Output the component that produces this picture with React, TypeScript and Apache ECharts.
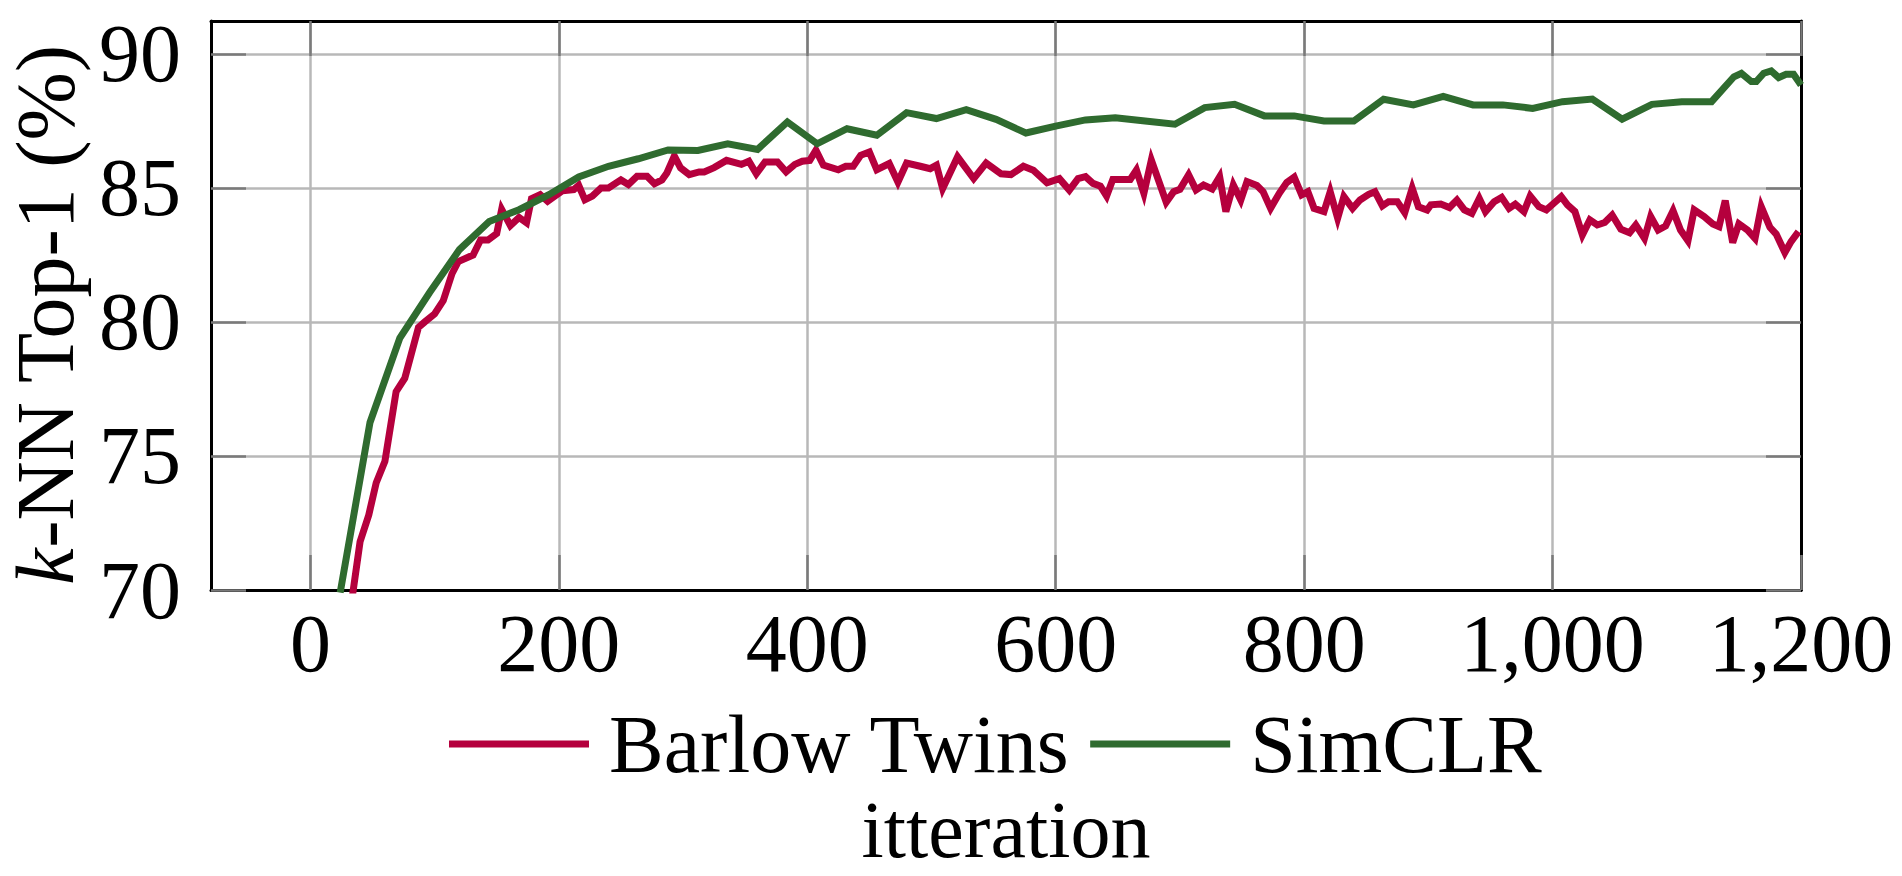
import React, { useEffect, useRef } from "react";
import * as echarts from "echarts";

const FONT = "'Liberation Serif', 'DejaVu Serif', serif";

const xTicks = [0, 200, 400, 600, 800, 1000, 1200];
const yTicks = [70, 75, 80, 85, 90];

const seriesNames = ["Barlow Twins", "SimCLR"];
const seriesColors = ["#B5003D", "#2F6B2F"];

// Barlow Twins (k-NN Top-1 %)
const btX = [
  33, 40, 47, 53, 60, 69, 76, 87, 92, 100, 107, 114, 119, 131, 137, 143, 150, 154, 161, 168,
  174, 178, 185, 191, 197, 203, 212, 216, 221, 227, 234, 240, 250, 256, 263, 271, 277, 283, 287, 293,
  298, 305, 313, 317, 325, 335, 347, 353, 359, 366, 376, 383, 390, 396, 402, 407, 413, 425, 431, 437,
  443, 450, 456, 466, 473, 480, 491, 499, 504, 509, 521, 534, 544, 556, 564, 574, 582, 593, 603, 611,
  618, 624, 630, 636, 641, 646, 660, 665, 671, 677, 689, 695, 700, 707, 713, 719, 726, 732, 737, 743,
  749, 754, 762, 767, 773, 780, 786, 792, 798, 803, 808, 816, 821, 827, 832, 839, 845, 852, 857, 863,
  868, 875, 881, 887, 892, 899, 902, 910, 917, 923, 929, 935, 941, 946, 953, 959, 965, 970, 977, 982,
  989, 995, 1001, 1007, 1012, 1018, 1024, 1030, 1036, 1042, 1048, 1055, 1062, 1067, 1074, 1079, 1085, 1091, 1097, 1103,
  1109, 1114, 1122, 1129, 1134, 1139, 1145, 1150, 1157, 1163, 1168, 1175, 1180, 1187, 1192, 1198,
];
const btY = [
  69.5, 71.8, 72.8, 74.0, 74.8, 77.4, 77.9, 79.8, 80.0, 80.3, 80.8, 81.8, 82.25, 82.5, 83.06, 83.06, 83.3, 84.2, 83.6, 83.9,
  83.7, 84.6, 84.75, 84.5, 84.7, 84.9, 84.94, 85.1, 84.56, 84.7, 85.0, 85.0, 85.3, 85.13, 85.44, 85.44, 85.16, 85.3, 85.56, 86.19,
  85.75, 85.5, 85.6, 85.6, 85.76, 86.03, 85.88, 86.0, 85.53, 85.97, 85.97, 85.6, 85.88, 86.0, 86.03, 86.41, 85.85, 85.68, 85.81, 85.81,
  86.22, 86.34, 85.68, 85.91, 85.22, 85.93, 85.81, 85.72, 85.85, 84.98, 86.16, 85.35, 85.93, 85.53, 85.5, 85.81, 85.66, 85.19, 85.35, 84.92,
  85.35, 85.42, 85.17, 85.07, 84.7, 85.32, 85.32, 85.67, 84.8, 86.04, 84.47, 84.86, 84.95, 85.49, 84.93, 85.11, 84.96, 85.42, 84.12, 85.11,
  84.55, 85.24, 85.09, 84.86, 84.24, 84.8, 85.2, 85.4, 84.74, 84.86, 84.24, 84.12, 84.86, 83.87, 84.68, 84.24, 84.55, 84.76, 84.86, 84.33,
  84.49, 84.49, 84.08, 84.99, 84.3, 84.18, 84.37, 84.4, 84.27, 84.55, 84.18, 84.05, 84.61, 84.12, 84.49, 84.65, 84.24, 84.4, 84.12, 84.7,
  84.3, 84.18, 84.43, 84.68, 84.37, 84.12, 83.25, 83.81, 83.62, 83.71, 83.99, 83.46, 83.33, 83.62, 83.12, 83.93, 83.43, 83.58, 84.15, 83.43,
  83.03, 84.18, 83.93, 83.66, 83.56, 84.53, 82.96, 83.66, 83.43, 83.12, 84.3, 83.53, 83.28, 82.59, 83.0, 83.37,
];

// SimCLR (k-NN Top-1 %)
const simX = [
  24, 48, 72, 96, 120, 144, 168, 192, 216, 240, 264, 288, 312, 336, 360, 384, 408, 432, 456, 480,
  504, 528, 552, 576, 600, 624, 648, 672, 696, 720, 744, 768, 792, 816, 840, 864, 888, 912, 936, 960,
  984, 1008, 1032, 1056, 1080, 1104, 1128, 1146, 1152, 1160, 1164, 1170, 1176, 1182, 1188, 1194, 1200,
];
const simY = [
  69.9, 76.25, 79.4, 81.1, 82.7, 83.75, 84.19, 84.75, 85.41, 85.81, 86.09, 86.42, 86.4, 86.65, 86.44, 87.46, 86.65, 87.21, 86.97, 87.81,
  87.59, 87.92, 87.56, 87.05, 87.31, 87.54, 87.62, 87.5, 87.38, 88.0, 88.12, 87.69, 87.69, 87.5, 87.5, 88.31, 88.1, 88.42, 88.1, 88.1,
  87.97, 88.22, 88.32, 87.57, 88.12, 88.22, 88.22, 89.15, 89.28, 88.97, 88.97, 89.28, 89.37, 89.12, 89.24, 89.24, 88.84,
];

const X_MIN = -80;
const X_MAX = 1200;
const Y_MIN = 70;
const Y_MAX = 91.23;

const fmtThousands = (v: number) =>
  String(v).replace(/\B(?=(\d{3})+(?!\d))/g, ",");

export default function App() {
  const ref = useRef<HTMLDivElement>(null);

  useEffect(() => {
    if (!ref.current) return;
    const chart = echarts.init(ref.current, undefined, { renderer: "svg" });

    const gridLine = { show: true, lineStyle: { color: "#b8b8b8", width: 2.5 } };
    const border = { show: true, onZero: false, lineStyle: { color: "#000", width: 3 } };
    const tickStyle = { color: "#7a7a7a", width: 2.5 };

    const option: any = {
      animation: false,
      backgroundColor: "#ffffff",
      textStyle: { fontFamily: FONT },
      grid: {
        left: 211,
        right: 101,
        top: 21,
        bottom: 286,
        containLabel: false,
        outerBoundsMode: "none",
      },
      legend: {
        data: seriesNames,
        left: 449,
        top: 703,
        icon: "rect",
        itemWidth: 140,
        itemHeight: 7,
        itemGap: 20,
        padding: 0,
        textStyle: {
          fontFamily: FONT,
          fontSize: 82,
          lineHeight: 70,
          color: "#000",
          padding: [0, 0, 0, 15],
        },
      },
      xAxis: [
        {
          type: "value",
          position: "bottom",
          min: X_MIN,
          max: X_MAX,
          name: "itteration",
          nameLocation: "middle",
          nameGap: 205,
          nameMoveOverlap: false,
          nameTextStyle: { fontFamily: FONT, fontSize: 80, lineHeight: 70, color: "#000" },
          axisLine: border,
          axisTick: { show: true, inside: true, length: 35, lineStyle: tickStyle, customValues: xTicks },
          axisLabel: {
            show: true,
            customValues: xTicks,
            margin: 12,
            fontFamily: FONT,
            fontSize: 82,
            color: "#000",
            formatter: (v: number) => fmtThousands(v),
          },
          splitLine: gridLine,
        },
        {
          type: "value",
          position: "top",
          min: X_MIN,
          max: X_MAX,
          axisLine: border,
          axisTick: { show: true, inside: true, length: 35, lineStyle: tickStyle, customValues: xTicks },
          axisLabel: { show: false, customValues: xTicks },
          splitLine: { show: false },
        },
      ],
      yAxis: [
        {
          type: "value",
          position: "left",
          min: Y_MIN,
          max: Y_MAX,
          name: "{i|k}-NN Top-1 (%)",
          nameLocation: "middle",
          nameRotate: 90,
          nameGap: 132,
          nameMoveOverlap: false,
          nameTextStyle: {
            fontFamily: FONT,
            fontSize: 82,
            lineHeight: 68,
            color: "#000",
            padding: [0, 18, 0, 0],
            rich: {
              i: { fontFamily: FONT, fontSize: 82, lineHeight: 68, fontStyle: "italic", color: "#000" },
            },
          },
          axisLine: border,
          axisTick: { show: true, inside: true, length: 35, lineStyle: tickStyle, customValues: yTicks },
          axisLabel: {
            show: true,
            customValues: yTicks,
            margin: 30,
            fontFamily: FONT,
            fontSize: 82,
            color: "#000",
          },
          splitLine: gridLine,
        },
        {
          type: "value",
          position: "right",
          min: Y_MIN,
          max: Y_MAX,
          axisLine: border,
          axisTick: { show: true, inside: true, length: 35, lineStyle: tickStyle, customValues: yTicks },
          axisLabel: { show: false, customValues: yTicks },
          splitLine: { show: false },
        },
      ],
      series: [
        {
          name: seriesNames[0],
          type: "line",
          xAxisIndex: 0,
          yAxisIndex: 0,
          data: btX.map((x, i) => [x, btY[i]]),
          showSymbol: false,
          symbol: "none",
          color: seriesColors[0],
          lineStyle: { color: seriesColors[0], width: 7, join: "miter", miterLimit: 10 },
          clip: true,
          z: 3,
        },
        {
          name: seriesNames[1],
          type: "line",
          xAxisIndex: 0,
          yAxisIndex: 0,
          data: simX.map((x, i) => [x, simY[i]]),
          showSymbol: false,
          symbol: "none",
          color: seriesColors[1],
          lineStyle: { color: seriesColors[1], width: 7, join: "miter", miterLimit: 10 },
          clip: true,
          z: 4,
        },
      ],
    };

    chart.setOption(option);
    return () => chart.dispose();
  }, []);

  return (
    <div
      ref={ref}
      style={{ position: "absolute", left: 0, top: 0, width: 1902, height: 876 }}
    />
  );
}
